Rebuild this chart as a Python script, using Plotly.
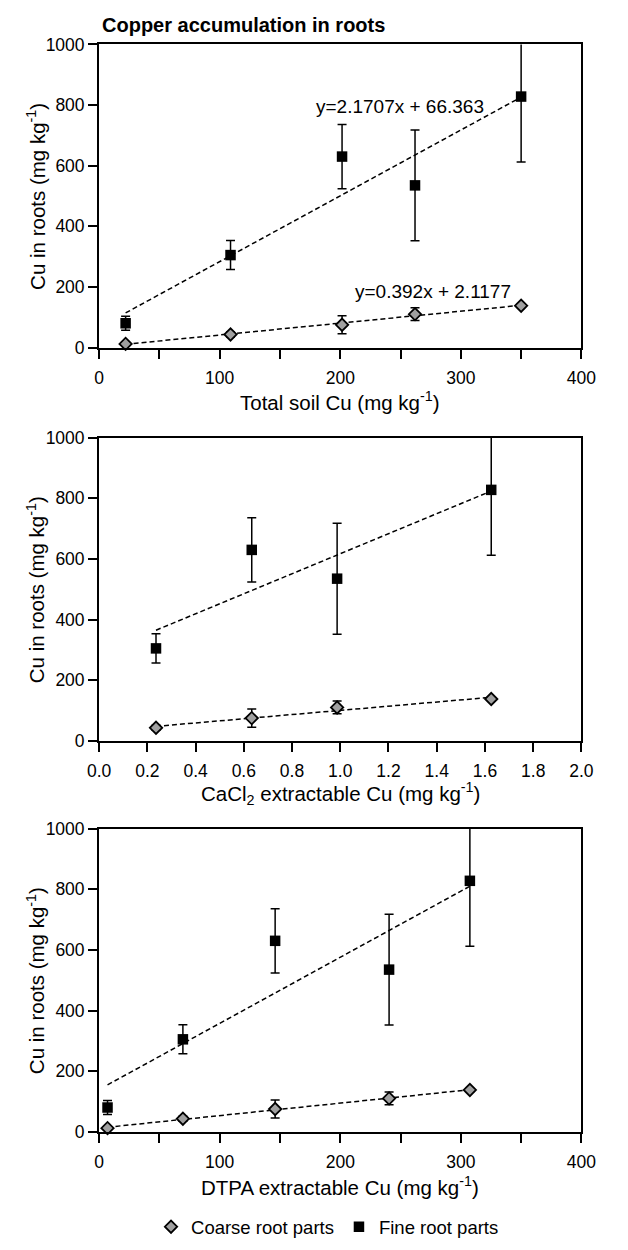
import numpy as np
import plotly.graph_objects as go

# ---------------- data ----------------
total_cu = [22, 109, 201.5, 262, 350]          # Total soil Cu (mg/kg)
cacl2_cu = [0.236, 0.633, 0.987, 1.626]        # CaCl2 extractable Cu (points 2..5)
dtpa_cu = [7, 69.5, 146, 240.5, 307.5]         # DTPA extractable Cu

fine_cu = [80, 305, 630, 535, 828]             # Cu in fine root parts
fine_err = [23, 48, 106, 183, 216]
coarse_cu = [12, 43, 75, 110, 138]             # Cu in coarse root parts
coarse_err = [5, 8, 30, 21, 5]

# regression equations printed in the top panel
fine_total_fit = [2.1707, 66.363]
coarse_total_fit = [0.392, 2.1177]

x_titles = ["Total soil Cu (mg kg<sup>-1</sup>)",
            "CaCl<sub>2</sub> extractable Cu (mg kg<sup>-1</sup>)",
            "DTPA extractable Cu (mg kg<sup>-1</sup>)"]
y_title = "Cu in roots (mg kg<sup>-1</sup>)"
y_ticks = [0, 200, 400, 600, 800, 1000]
x_ticks_cu = [0, 100, 200, 300, 400]
x_ticks_cacl2 = [0.0, 0.2, 0.4, 0.6, 0.8, 1.0, 1.2, 1.4, 1.6, 1.8, 2.0]

FONT = "Liberation Sans, Arial, Helvetica, sans-serif"
W, H = 628, 1250
X0, X1 = 91, 595
x_dom = [X0 / W, X1 / W]
panel_px = [(35, 343), (434.7, 742.7), (832, 1140)]   # top, bottom in px
y_doms = [[1 - b / H, 1 - t / H] for t, b in panel_px]
x_title_px = [397, 796.5, 1195]

fig = go.Figure()

panels = [
    (total_cu, fine_cu, fine_err, coarse_cu, coarse_err, fine_total_fit, coarse_total_fit),
    (cacl2_cu, fine_cu[1:], fine_err[1:], coarse_cu[1:], coarse_err[1:], None, None),
    (dtpa_cu, fine_cu, fine_err, coarse_cu, coarse_err, None, None),
]

for i, (xv, fy, fe, cy, ce, ffit, cfit) in enumerate(panels):
    xa = "x" if i == 0 else f"x{i+1}"
    ya = "y" if i == 0 else f"y{i+1}"
    xs = np.array([min(xv), max(xv)], dtype=float)
    if ffit is None:
        ffit = np.polyfit(xv, fy, 1)
    if cfit is None:
        cfit = np.polyfit(xv, cy, 1)
    for fit in (ffit, cfit):
        fig.add_trace(go.Scatter(
            x=xs, y=fit[0] * xs + fit[1], mode="lines",
            line=dict(color="black", width=1.5, dash="5px,3px"),
            showlegend=False, hoverinfo="skip", xaxis=xa, yaxis=ya))
    # error bars (clipped to plot area)
    for yy, ee in ((fy, fe), (cy, ce)):
        fig.add_trace(go.Scatter(
            x=xv, y=yy, mode="markers", marker=dict(size=1, opacity=0),
            error_y=dict(type="data", array=ee, visible=True, color="black",
                         thickness=1.5, width=4.5),
            showlegend=False, hoverinfo="skip", xaxis=xa, yaxis=ya))
    # markers
    fig.add_trace(go.Scatter(
        x=xv, y=cy, mode="markers", name="Coarse root parts",
        marker=dict(symbol="diamond", size=9.5, color="#a0a0a0",
                    line=dict(color="black", width=1.8)),
        cliponaxis=False, showlegend=(i == 0), xaxis=xa, yaxis=ya))
    fig.add_trace(go.Scatter(
        x=xv, y=fy, mode="markers", name="Fine root parts",
        marker=dict(symbol="square", size=10.5, color="black",
                    line=dict(color="black", width=0)),
        cliponaxis=False, showlegend=(i == 0), xaxis=xa, yaxis=ya))

tick_style = dict(ticks="outside", ticklen=9, tickwidth=2, tickcolor="black")
axis_common = dict(showline=True, linecolor="black", linewidth=2, mirror=True,
                   showgrid=False, zeroline=False,
                   tickfont=dict(family=FONT, size=17.5, color="black"),
                   **tick_style)

layout = dict(width=W, height=H, margin=dict(l=0, r=0, t=0, b=0),
              plot_bgcolor="white", paper_bgcolor="white",
              font=dict(family=FONT, color="black"))

annotations = []
for i in range(3):
    xk = "xaxis" if i == 0 else f"xaxis{i+1}"
    yk = "yaxis" if i == 0 else f"yaxis{i+1}"
    ya = "y" if i == 0 else f"y{i+1}"
    xa = "x" if i == 0 else f"x{i+1}"
    if i == 1:
        xt = dict(range=[0, 2], tickvals=x_ticks_cacl2,
                  ticktext=[f"{v:.1f}" for v in x_ticks_cacl2])
    else:
        xt = dict(range=[0, 400], tickvals=x_ticks_cu,
                  minor=dict(dtick=50, tick0=0, showgrid=False, **tick_style))
    layout[xk] = dict(axis_common, domain=x_dom, anchor=ya,
                      ticklabelstandoff=4, **xt)
    layout[yk] = dict(axis_common, domain=y_doms[i], anchor=xa, range=[0, 1000],
                      tickvals=y_ticks)
    t, b = panel_px[i]
    annotations.append(dict(
        text=x_titles[i], xref="paper", yref="paper",
        x=(X0 + X1) / 2 / W, y=1 - x_title_px[i] / H,
        xanchor="center", yanchor="middle", showarrow=False,
        font=dict(family=FONT, size=20.5, color="black")))
    annotations.append(dict(
        text=y_title, xref="paper", yref="paper", textangle=-90,
        x=25 / W, y=1 - (t + b) / 2 / H,
        xanchor="center", yanchor="middle", showarrow=False,
        font=dict(family=FONT, size=20.5, color="black")))

layout["legend"] = dict(orientation="h", x=0.525, xanchor="center", y=1 - 1237 / H,
                        yanchor="middle", font=dict(family=FONT, size=18.5, color="black"),
                        bgcolor="rgba(0,0,0,0)")

annotations += [
    dict(text="<b>Copper accumulation in roots</b>", xref="paper", yref="paper",
         x=92 / W, y=1 - 15.5 / H, xanchor="left", yanchor="middle", showarrow=False,
         font=dict(family=FONT, size=20, color="black")),
    dict(text=f"y={fine_total_fit[0]}x + {fine_total_fit[1]}", xref="x", yref="y",
         x=320.5, y=795, xanchor="right", yanchor="middle", showarrow=False,
         font=dict(family=FONT, size=19, color="black")),
    dict(text=f"y={coarse_total_fit[0]}x + {coarse_total_fit[1]}", xref="x", yref="y",
         x=343, y=185, xanchor="right", yanchor="middle", showarrow=False,
         font=dict(family=FONT, size=19, color="black")),
]
layout["annotations"] = annotations

fig.update_layout(**layout)
fig.write_html("out.html")
